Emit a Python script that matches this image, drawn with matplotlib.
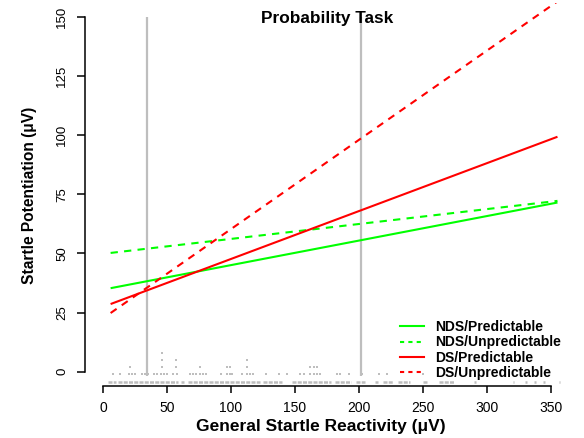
import matplotlib
matplotlib.use('Agg')
import matplotlib.pyplot as plt
from matplotlib.lines import Line2D

plt.rcParams['font.family'] = ['Liberation Sans', 'DejaVu Sans']

# ---------------- data ----------------
title = "Probability Task"
xlabel = "General Startle Reactivity (μV)"
ylabel = "Startle Potentiation (μV)"

x_ticks = [0, 50, 100, 150, 200, 250, 300, 350]
y_ticks = [0, 25, 50, 75, 100, 125, 150]

line_x = [6, 355]
series_names = ["NDS/Predictable", "NDS/Unpredictable", "DS/Predictable", "DS/Unpredictable"]
series_start = [35.3, 50.2, 28.6, 24.8]
series_end = [71.5, 72.2, 99.3, 156.5]
series_colors = ["#00ff00", "#00ff00", "#ff0000", "#ff0000"]
series_dashed = [False, True, False, True]

vline_x = [34.6, 201.6]
vline_span = [-2, 150]

# stacked strip of individual reactivity values at the bottom
rug_base_y = -4.3
rug_base_segments = [(4, 10), (12, 59), (61, 63.5), (66.5, 123), (125, 140), (147.5, 178),
                     (181.5, 194), (198, 205), (212.5, 215), (219, 226.5), (230.5, 240),
                     (250, 254), (262.5, 274), (290, 291), (320, 321), (330, 331),
                     (337, 338), (344, 345), (356, 357)]
rug_row_y = [-1.1, 1.9, 4.9, 8.0]
rug_rows = [
    [8, 13, 20, 22.5, 25, 30.5, 33, 35.5, 40, 42.5, 45, 47.5, 50, 55, 57.5,
     68, 70.5, 73, 75.5, 78, 80.5, 92.5, 97, 99, 101, 108.5, 112.5, 115, 117.5,
     127, 137.5, 144, 154, 157, 162, 164.5, 167, 169.5, 182.5, 185.5, 192,
     202.5, 215.5, 222, 250],
    [21, 34.5, 46.5, 56.8, 76, 97, 99.5, 112.5, 162, 164.5, 167],
    [34.5, 46.5, 56.8, 112.5],
    [46.5],
]

# ---------------- figure ----------------
W, H = 584, 438
fig = plt.figure(figsize=(W / 100, H / 100), dpi=100)
ax_l, ax_r, ax_t, ax_b = 85, 569, 2.6, 385.9
ax = fig.add_axes([ax_l / W, (H - ax_b) / H, (ax_r - ax_l) / W, (ax_b - ax_t) / H])
ax.set_xlim(-14, 364)
ax.set_ylim(-6, 156)

gray = "#bebebe"
# rug
for a, b in rug_base_segments:
    ax.hlines(rug_base_y, a, b, colors=gray, lw=1.8, linestyles=(0, (1.6, 0.5)))
for yy, row in zip(rug_row_y, rug_rows):
    ax.plot(row, [yy] * len(row), ls='none', marker='s', ms=1.7, mew=0, color=gray)

# vertical reference lines
ax.vlines(vline_x, vline_span[0], vline_span[1], colors=gray, lw=1.6)

# regression lines
handles = []
for name, y0, y1, c, d in zip(series_names, series_start, series_end, series_colors, series_dashed):
    ls = (0, (3.5, 3)) if d else '-'
    ax.plot(line_x, [y0, y1], color=c, lw=1.5, ls=ls, solid_capstyle='butt', dash_capstyle='butt')
    handles.append(Line2D([], [], color=c, lw=1.5, ls=((0, (2, 2)) if d else '-')))

# axes styling
for s in ['top', 'right']:
    ax.spines[s].set_visible(False)
ax.spines['left'].set_bounds(0, 150)
ax.spines['bottom'].set_bounds(0, 350)
for s in ['left', 'bottom']:
    ax.spines[s].set_linewidth(1.1)
ax.set_xticks(x_ticks)
ax.set_yticks(y_ticks)
ax.set_xticklabels([str(t) for t in x_ticks], fontsize=10)
ax.set_yticklabels([str(t) for t in y_ticks], fontsize=9.5, rotation=90, va='center')
ax.tick_params(axis='x', length=5, width=1.1, pad=6)
ax.tick_params(axis='y', length=6, width=1.1, pad=6)

fig.text(327 / W, 1 - 18 / H, title, ha='center', va='center', fontsize=12.4, fontweight='bold')
fig.text(321 / W, 1 - 426 / H, xlabel, ha='center', va='center', fontsize=12.5, fontweight='bold')
fig.text(30 / W, 1 - 195 / H, ylabel, ha='center', va='center', fontsize=11.2,
         fontweight='bold', rotation=90)

leg = ax.legend(handles, series_names, loc='upper left', bbox_to_anchor=(400 / W, 1 - 320 / H),
                bbox_transform=fig.transFigure, frameon=False, borderpad=0, borderaxespad=0,
                handlelength=1.7, handletextpad=0.85, labelspacing=0.1,
                prop={'size': 10, 'weight': 'bold'})

fig.savefig('out.png', dpi=100)
